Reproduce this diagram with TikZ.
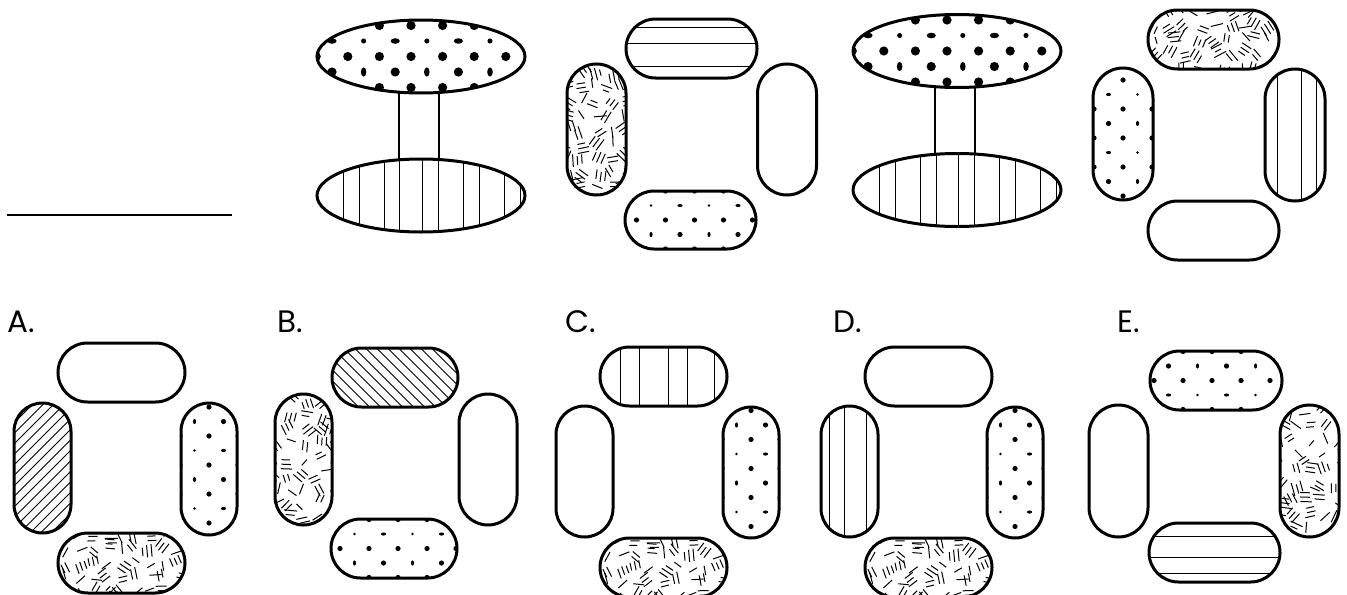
\documentclass[tikz,border=0pt]{standalone}
\usepackage{fontspec}
\setmainfont{Poppins}

\tikzset{
    outline/.style={line width=1.5pt},
    fine line/.style={line width=0.5pt},
    stem/.style={line width=1.1pt},
    choice/.style={font=\fontsize{15.5}{18}\selectfont, anchor=base west, inner sep=0pt},
}

% rows of dots, every other row shifted by half a step
\newcommand\dotgrid[4]{%
    \foreach \j in {-3,...,3}{
        \foreach \i in {-4,...,4}{
            \ifodd\j\relax
                \pgfmathsetmacro\dotx{#4+(\i+0.5)*#1}
                \pgfmathtruncatemacro\rowtype{Mod(\j,4)}
                \ifnum\rowtype=3\relax
                    \ifodd\i\relax
                        \fill (\dotx,\j*#2) ellipse [x radius=#3, y radius={0.6*#3}];
                    \else
                        \fill (\dotx,\j*#2) circle ({0.55*#3});
                    \fi
                \else
                    \ifodd\i\relax
                        \fill (\dotx,\j*#2) circle (#3);
                    \else
                        \fill (\dotx,\j*#2) ellipse [x radius={0.6*#3}, y radius=#3];
                    \fi
                \fi
            \else
                \fill (#4+\i*#1,\j*#2) circle (#3);
            \fi
        }
    }%
}
\newcommand\vstripes[1]{\foreach \s in {#1} \draw[fine line] (\s,-80) -- (\s,80);}
\newcommand\hstripes[1]{\foreach \s in {#1} \draw[fine line] (-80,\s) -- (80,\s);}
\newcommand\hatchfill[3]{\foreach \k in {-16,...,16} \draw[fine line] (\k*#1-70,#2) -- (\k*#1+70,#3);}
% bunches of short strokes, one bunch to each cell
\newcommand\texturefill[3]{%
    \pgfmathsetseed{#1}
    \pgfmathtruncatemacro\nx{#2/14.5}
    \pgfmathtruncatemacro\ny{#3/14.5}
    \foreach \a in {-\nx,...,\nx}{
        \foreach \b in {-\ny,...,\ny}{
            \pgfmathsetmacro\cx{\a*14.5+rand*5}
            \pgfmathsetmacro\cy{\b*14.5+rand*5}
            \pgfmathsetmacro\ang{rnd*180}
            \pgfmathtruncatemacro\nm{1+int(rnd*2.99)}
            \begin{scope}[shift={(\cx,\cy)}, rotate=\ang]
                \foreach \m in {1,...,\nm}{
                    \pgfmathsetmacro\ll{3+rnd*4}
                    \pgfmathsetmacro\rr{3+rnd*4}
                    \draw[fine line] (-\ll,{(\m-(\nm+1)/2)*4.5}) -- (\rr,{(\m-(\nm+1)/2)*4.5});
                }
            \end{scope}
        }
    }%
}
% x, y, width, height, turn of the fill, fill
\newcommand\pill[6]{%
    \begin{scope}[shift={(#1,#2)}]
        \begin{scope}
            \clip[rounded corners={min(#3,#4)*0.25pt}] (-#3/2,-#4/2) rectangle (#3/2,#4/2);
            \begin{scope}[rotate=#5] #6 \end{scope}
        \end{scope}
        \draw[outline, rounded corners={min(#3,#4)*0.25pt}] (-#3/2,-#4/2) rectangle (#3/2,#4/2);
    \end{scope}%
}
\newcommand\disc[3]{%
    \begin{scope}[shift={(#1,#2)}]
        \fill[white] (0,0) ellipse [x radius=104, y radius=36.5];
        \begin{scope}
            \clip (0,0) ellipse [x radius=104, y radius=36.5];
            #3
        \end{scope}
        \draw[outline] (0,0) ellipse [x radius=104, y radius=36.5];
    \end{scope}%
}

\begin{document}
\begin{tikzpicture}[x=0.5pt, y=-0.5pt]
    \useasboundingbox (0,0) rectangle (1347,594);

    % answer blank
        \coordinate (blank-l) at (7,215);
        \coordinate (blank-r) at (232,215);
        \draw[line width=1pt] (blank-l) -- (blank-r);

    % first spool and ring
        \draw[stem] (399,56.5) -- (399,195.5) (439,56.5) -- (439,195.5);
        \disc{421}{56.5}{\dotgrid{31.6}{15.5}{4.6}{-10}}
        \disc{421}{195.5}{\vstripes{-78,-62,-37,-22,1,17,42,58,83,99}}

        \pill{691.5}{48.5}{131}{59}{0}{\hstripes{-21.5,-5.5,17.5}}
        \pill{596.5}{129.5}{59}{131}{0}{\texturefill{3}{30}{66}}
        \pill{787}{129.5}{59}{131}{0}{}
        \pill{690.5}{220}{131}{58}{0}{\dotgrid{29}{14.5}{2.6}{4}}

    % second spool and ring
        \draw[stem] (935,51) -- (935,190) (975,51) -- (975,190);
        \disc{957}{51}{\dotgrid{31.6}{15.5}{4.6}{-10}}
        \disc{957}{190}{\vstripes{-78,-62,-37,-21,1,17,42,58,83,99}}

        \pill{1213.5}{39.5}{131}{59}{0}{\texturefill{7}{66}{30}}
        \pill{1123}{134}{60}{132}{-90}{\dotgrid{29}{14.5}{2.6}{4}}
        \pill{1295}{135}{60}{132}{0}{\vstripes{-18,6,21}}
        \pill{1213.5}{230.5}{131}{59}{0}{}

    % option A
        \node[choice] (A) at (7,332) {A.};
        \pill{121.5}{372.5}{127}{59}{0}{}
        \pill{42.5}{468}{57}{130}{0}{\hatchfill{10.5}{70}{-70}}
        \pill{209}{469}{56}{132}{90}{\dotgrid{29}{14.5}{2.6}{4}}
        \pill{121.5}{563}{127}{60}{0}{\texturefill{11}{64}{30}}

    % option B
        \node[choice] (B) at (277,332) {B.};
        \pill{395}{377.5}{126}{59}{0}{\hatchfill{11}{-70}{70}}
        \pill{303.5}{459.5}{57}{131}{0}{\texturefill{5}{29}{66}}
        \pill{488}{459.5}{58}{131}{0}{}
        \pill{394}{548.5}{126}{59}{0}{\dotgrid{29}{14.5}{2.6}{4}}

    % option C
        \node[choice] (C) at (565,332) {C.};
        \pill{663.5}{376.5}{127}{59}{0}{\vstripes{-43.5,-24.5,4.5,23.5,50.5}}
        \pill{584.5}{471.5}{57}{131}{0}{}
        \pill{751}{472.5}{56}{131}{90}{\dotgrid{29}{14.5}{2.6}{4}}
        \pill{663.5}{567.5}{127}{59}{0}{\texturefill{11}{64}{30}}

    % option D
        \node[choice] (D) at (833,332) {D.};
        \pill{928.5}{376.5}{127}{59}{0}{}
        \pill{849.5}{471.5}{57}{131}{0}{\vstripes{-20.5,-5.5,16.5}}
        \pill{1015}{472.5}{56}{131}{90}{\dotgrid{29}{14.5}{2.6}{4}}
        \pill{928.5}{567.5}{127}{59}{0}{\texturefill{11}{64}{30}}

    % option E
        \node[choice] (E) at (1117,332) {E.};
        \pill{1216}{380.5}{132}{59}{180}{\dotgrid{29}{14.5}{2.6}{4}}
        \pill{1118.5}{471}{59}{132}{0}{}
        \pill{1309.5}{471}{59}{132}{0}{\texturefill{13}{30}{66}}
        \pill{1214.5}{552.5}{131}{59}{0}{\hstripes{-16.5,4.5,20.5}}

\end{tikzpicture}
\end{document}
